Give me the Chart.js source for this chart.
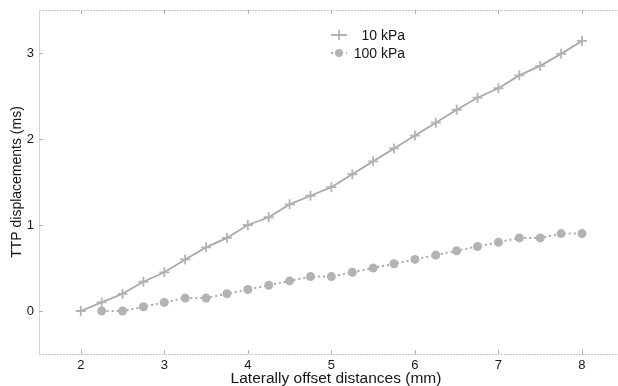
<!DOCTYPE html>
<html>
<head>
<meta charset="utf-8">
<script src="https://cdn.jsdelivr.net/npm/chart.js@4/dist/chart.umd.min.js"></script>
<style>
html,body{margin:0;padding:0;background:#fff;overflow:hidden;}
#wrap{width:618px;height:386px;}
</style>
</head>
<body>
<div id="wrap"><canvas id="c" width="618" height="386"></canvas></div>
<script>
// Data
const xs10 = [2,2.25,2.5,2.75,3,3.25,3.5,3.75,4,4.25,4.5,4.75,5,5.25,5.5,5.75,6,6.25,6.5,6.75,7,7.25,7.5,7.75,8];
const ys10 = [0,0.10,0.20,0.34,0.45,0.60,0.74,0.85,1.00,1.09,1.24,1.34,1.44,1.59,1.74,1.89,2.04,2.19,2.34,2.48,2.59,2.74,2.85,2.99,3.14];
const xs100 = [2.25,2.5,2.75,3,3.25,3.5,3.75,4,4.25,4.5,4.75,5,5.25,5.5,5.75,6,6.25,6.5,6.75,7,7.25,7.5,7.75,8];
const ys100 = [0,0,0.05,0.10,0.15,0.15,0.20,0.25,0.30,0.35,0.40,0.40,0.45,0.50,0.55,0.60,0.65,0.70,0.75,0.80,0.85,0.85,0.90,0.90];
const seriesNames = ['10 kPa','100 kPa'];
const xTicks = [2,3,4,5,6,7,8];
const yTicks = [0,1,2,3];
const xTitle = 'Laterally offset distances (mm)';
const yTitle = 'TTP displacements (ms)';

const FONT = 'Liberation Sans, Arial, sans-serif';
const lineGray = '#a9a9a9';
const markGray = '#b3b3b3';
const textCol = '#161616';

const toPts = (xa, ya) => xa.map((x, i) => ({x: x, y: ya[i]}));

const framePlugin = {
  id: 'frame',
  afterDraw(chart) {
    const {ctx, chartArea: a, scales} = chart;
    ctx.save();
    ctx.strokeStyle = '#c4c4c4';
    ctx.lineWidth = 1;
    ctx.setLineDash([2, 1]);
    ctx.beginPath();
    ctx.moveTo(a.left, a.top + 0.5); ctx.lineTo(618, a.top + 0.5);
    ctx.moveTo(a.left, a.bottom + 0.5); ctx.lineTo(618, a.bottom + 0.5);
    ctx.stroke();
    ctx.setLineDash([]);
    ctx.strokeStyle = '#d6d6d6';
    ctx.beginPath();
    ctx.moveTo(a.left + 0.5, a.top); ctx.lineTo(a.left + 0.5, a.bottom);
    ctx.stroke();
    ctx.strokeStyle = '#b0b0b0';
    ctx.beginPath();
    xTicks.forEach(v => {
      const px = Math.round(scales.x.getPixelForValue(v)) + 0.5;
      ctx.moveTo(px, a.bottom); ctx.lineTo(px, a.bottom - 4);
      ctx.moveTo(px, a.top); ctx.lineTo(px, a.top + 4);
    });
    yTicks.forEach(v => {
      const py = Math.round(scales.y.getPixelForValue(v)) + 0.5;
      ctx.moveTo(a.left, py); ctx.lineTo(a.left + 4, py);
    });
    ctx.stroke();
    // x-axis title
    ctx.fillStyle = textCol;
    ctx.font = '15.5px ' + FONT;
    ctx.textAlign = 'center';
    ctx.textBaseline = 'middle';
    ctx.fillText(xTitle, 336, 379);
    // legend
    const rows = [{y: 35, ds: 0}, {y: 53, ds: 1}];
    rows.forEach(r => {
      const ds = chart.data.datasets[r.ds];
      ctx.strokeStyle = ds.borderColor;
      ctx.lineWidth = ds.borderWidth;
      ctx.setLineDash(ds.borderDash || []);
      ctx.beginPath();
      ctx.moveTo(331, r.y); ctx.lineTo(347, r.y);
      ctx.stroke();
      ctx.setLineDash([]);
      if (ds.pointStyle === 'circle') {
        ctx.fillStyle = ds.pointBackgroundColor;
        ctx.beginPath(); ctx.arc(339, r.y, 4, 0, Math.PI * 2); ctx.fill();
      } else {
        ctx.strokeStyle = ds.pointBorderColor;
        ctx.lineWidth = ds.pointBorderWidth;
        ctx.beginPath();
        ctx.moveTo(334, r.y); ctx.lineTo(344, r.y);
        ctx.moveTo(339, r.y - 5); ctx.lineTo(339, r.y + 5);
        ctx.stroke();
      }
      ctx.fillStyle = textCol;
      ctx.font = '14px ' + FONT;
      ctx.textAlign = 'right';
      ctx.textBaseline = 'middle';
      ctx.fillText(seriesNames[r.ds], 405, r.y + 1);
    });
    ctx.restore();
  }
};

new Chart(document.getElementById('c'), {
  type: 'line',
  data: {
    datasets: [
      {
        label: seriesNames[0],
        data: toPts(xs10, ys10),
        borderColor: lineGray,
        borderWidth: 1.8,
        pointStyle: 'cross',
        pointRadius: 5,
        pointBorderColor: markGray,
        pointBorderWidth: 1.8,
        pointBackgroundColor: markGray,
        tension: 0
      },
      {
        label: seriesNames[1],
        data: toPts(xs100, ys100),
        borderColor: lineGray,
        borderWidth: 2,
        borderDash: [2, 3],
        pointStyle: 'circle',
        pointRadius: 4.5,
        pointBorderWidth: 0,
        pointBorderColor: markGray,
        pointBackgroundColor: markGray,
        tension: 0
      }
    ]
  },
  options: {
    responsive: false,
    animation: false,
    devicePixelRatio: 1,
    layout: {padding: {left: 0, right: 0, top: 10, bottom: 0}},
    plugins: {legend: {display: false}, tooltip: {enabled: false}},
    scales: {
      x: {
        type: 'linear',
        min: 1.5,
        max: 8.35,
        afterBuildTicks: s => { s.ticks = xTicks.map(v => ({value: v})); },
        afterFit: s => { s.height = 32; s.paddingLeft = 0; s.paddingRight = 0; },
        grid: {display: false, drawTicks: false},
        border: {display: false},
        ticks: {color: textCol, font: {family: FONT, size: 13}, padding: 4, maxRotation: 0},
        title: {display: false}
      },
      y: {
        type: 'linear',
        min: -0.5,
        max: 3.5,
        afterBuildTicks: s => { s.ticks = yTicks.map(v => ({value: v})); },
        afterFit: s => { s.width = 39; s.paddingTop = 0; s.paddingBottom = 0; },
        grid: {display: false, drawTicks: false},
        border: {display: false},
        ticks: {color: textCol, font: {family: FONT, size: 13}, padding: 5},
        title: {display: true, text: yTitle, color: textCol, font: {family: FONT, size: 14}, padding: {top: 9, bottom: 0}}
      }
    }
  },
  plugins: [framePlugin]
});
</script>
</body>
</html>
